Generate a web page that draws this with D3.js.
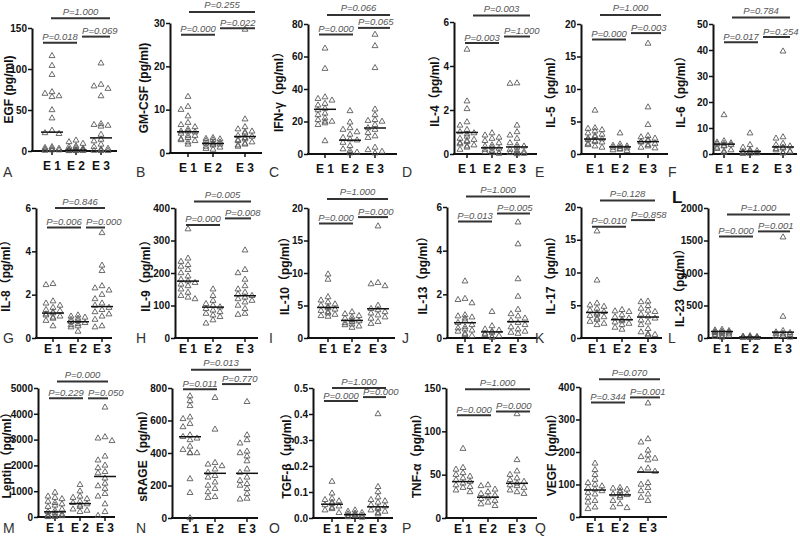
<!DOCTYPE html>
<html>
<head>
<meta charset="utf-8">
<script src="https://cdn.jsdelivr.net/npm/d3@7"></script>
<style>
    body { margin: 0; background: #fff; }
    svg { display: block; font-family: Arial, "Liberation Sans", "Noto Sans CJK SC", sans-serif; }
</style>
</head>
<body>
<svg width="800" height="536"></svg>
<script>
var groups = ["E 1", "E 2", "E 3"];
var panelLetters = ["A","B","C","D","E","F","G","H","I","J","K","L","M","N","O","P","Q"];
var yTitles = ["EGF  (pg/ml)", "GM-CSF (pg/ml)", "IFN-γ（pg/ml）", "IL-4（pg/ml）", "IL-5（pg/ml）", "IL-6（pg/ml）",
    "IL-8（pg/ml）", "IL-9（pg/ml）", "IL-10（pg/ml）", "IL-13（pg/ml）", "IL-17（pg/ml）", "IL-23（pg/ml）",
    "Leptin（pg/ml）", "sRAGE（pg/ml）", "TGF-β（μg/ml）", "TNF-α（pg/ml）", "VEGF（pg/ml）"];
var yTicks = [[0,50,100,150], [0,10,20,30], [0,20,40,60,80], [0,2,4,6], [0,5,10,15,20], [0,10,20,30,40,50],
    [0,2,4,6], [0,100,200,300,400], [0,5,10,15,20], [0,2,4,6], [0,5,10,15,20], [0,500,1000,1500,2000],
    [0,1000,2000,3000,4000,5000], [0,200,400,600,800], [0,0.1,0.2,0.3,0.4,0.5], [0,50,100,150], [0,100,200,300,400]];

var e1Values = [
    [116,104,93,72,70,67,66,50,40,25,22,21,5,4,3,3,2,1,1,0.5],
    [13,10.7,10,8.5,7,6.5,6,5.5,5,5,4.8,4.5,4,4,3.5,3.2,3,2.8,2.5,2],
    [65,52.5,35,34,33,31,30,28,27,25,24,22,21,20,20,19,18,8],
    [4.75,2.4,2.05,1.45,1.3,1.1,1.0,0.95,0.9,0.8,0.7,0.65,0.6,0.55,0.5,0.45,0.4,0.35,0.3,0.2],
    [6.7,4.0,3.9,3.7,3.5,3.2,3.0,2.8,2.6,2.4,2.3,2.2,2.0,1.9,1.8,1.6,1.4,1.2,1.0],
    [15,5,4.5,4.2,4,3.8,3.5,3.2,3,2.5,2,1.5,1,0.5],
    [2.5,2.45,1.7,1.6,1.5,1.4,1.3,1.25,1.2,1.15,1.1,1.05,1.0,0.95,0.9,0.8,0.55],
    [335,245,235,225,220,210,200,190,180,175,170,165,160,150,140,130,125,120],
    [9.8,9,6.3,5.8,5.5,5.2,5,4.8,4.6,4.4,4.2,4.0,3.8,3.6,3.4,3.3],
    [2.6,1.8,1.75,1.6,1.05,1.0,0.95,0.9,0.8,0.7,0.6,0.5,0.45,0.4,0.35,0.3,0.2,0.15,0.1],
    [16.3,8.8,5.3,5.0,4.8,4.5,4.2,4.0,3.8,3.6,3.4,3.2,3.0,2.8,2.5,2.2,2.0],
    [130,120,110,100,95,90,85,80,70,60,50,40,30,20,10],
    [950,800,750,700,600,550,500,450,400,300,250,200,150,100,80,60,40,20,10,5],
    [750,720,690,620,610,580,560,510,500,490,480,440,420,400,400,400,240,155,0],
    [0.14,0.095,0.075,0.07,0.065,0.06,0.055,0.05,0.045,0.04,0.035,0.03,0.02],
    [80,58,56,52,50,48,46,44,42,40,38,36,35,32,30],
    [165,145,130,115,105,100,95,90,85,80,75,70,60,50,45,30,25]
];
var e2Values = [
    [13,11,9,6,5,4,3,2,2,1.5,1,1,0.8,0.5,0.5,0.3,0.2,0.1],
    [3.5,3.3,3.2,3,2.8,2.5,2.3,2.2,2,2,1.8,1.5,1.3,1,0.8],
    [26.5,19.5,16,15,13.5,12,10,9,8.5,7,5,3,2,1,0.5],
    [0.95,0.85,0.75,0.7,0.6,0.5,0.4,0.35,0.3,0.25,0.2,0.15,0.1,0.05,0.05,0.02],
    [3.2,1.5,1.3,1.2,1.1,1.0,0.9,0.8,0.7,0.6,0.5],
    [8,3.5,2.5,1.5,1.2,1,0.8,0.5,0.3,0.2,0.1],
    [1.05,1.0,0.95,0.9,0.85,0.8,0.75,0.7,0.65,0.6,0.55,0.5,0.3],
    [150,130,115,105,100,95,90,85,80,75,70,65,55,45],
    [4.0,3.7,3.4,3.2,3.0,2.8,2.6,2.5,2.3,2.1,2.0,1.8,1.6],
    [1.2,0.55,0.4,0.35,0.3,0.25,0.2,0.15,0.1,0.05,0.02],
    [4.3,4.1,4.0,3.5,3.2,3.0,2.8,2.6,2.4,2.2,2.0,1.6,1.3],
    [30,25,20,15,12,10,8,5,3,2],
    [1250,1000,800,750,700,600,550,500,450,400,300,250,200],
    [740,545,340,330,320,300,280,260,250,220,200,180,160,130,125],
    [0.03,0.025,0.02,0.018,0.015,0.012,0.01,0.008,0.006,0.004,0.002],
    [38,37,33,30,28,26,24,22,20,18,16,14],
    [90,88,85,80,75,70,68,65,60,50,40,30,28]
];
var e3Values = [
    [107,81,79,76,67,33,32,31,30,20,14,12,8,5,3,2,1,0.5,0.3,0.2],
    [28.5,7.8,6,5.5,5,4.8,4.5,4,3.8,3.5,3.2,3,2.8,2.5,2.2,2,1.8,1.5],
    [73.5,66.5,53,27.5,24,21,20.5,20,18,16,15,13,11,10,4,2.5,1.5,0.5],
    [3.2,3.22,1.3,1.0,0.85,0.7,0.5,0.4,0.35,0.3,0.2,0.15,0.1,0.08,0.05,0.02,0],
    [17,7.2,4.5,2.8,2.6,2.4,2.2,2.0,1.9,1.8,1.6,1.4,1.2,1.0,0.9],
    [39.5,6.5,6,4,3.5,3,2.5,2.2,2,1.5,1,0.8,0.5,0.3],
    [4.85,3.35,3.1,2.4,2.3,2.2,2.0,1.8,1.6,1.5,1.4,1.3,1.2,1.1,1.0,0.85,0.55,0.5],
    [270,210,200,180,160,150,140,135,130,125,120,115,110,100,90,75,72],
    [17.2,8.5,8.3,8.0,5.0,4.5,4.3,4.0,3.8,3.5,3.2,3.0,2.5,2.2],
    [5.3,4.3,2.7,1.9,1.3,1.1,1.0,0.9,0.8,0.7,0.6,0.5,0.4,0.3,0.25,0.2],
    [5.6,5.5,4.9,4.5,4.2,4.0,3.6,3.3,3.0,2.7,2.4,2.0,1.4,0.9,0.6,0.5,0.4],
    [1550,330,110,90,80,70,60,50,40,30,20,10],
    [4250,3100,3050,2950,2350,2200,2000,1900,1750,1700,1500,1300,1200,1100,900,800,500,200,50],
    [715,510,480,460,410,400,380,350,300,280,250,230,210,200,180,150,120,115],
    [0.4,0.12,0.1,0.08,0.07,0.065,0.06,0.05,0.045,0.04,0.035,0.03,0.025,0.02,0.015],
    [120,67,54,50,46,44,42,40,38,37,35,32,30,28],
    [350,240,230,205,190,185,180,175,150,145,140,105,100,90,80,70,60,50]
];
var medians = [[23,1,16], [4.9,2.2,3.8], [27.5,8.5,16], [0.98,0.28,0.32], [2.3,1.1,1.9], [3.8,1.0,2.7],
    [1.15,0.75,1.45], [175,95,130], [4.7,2.7,4.5], [0.7,0.28,0.75], [3.9,2.8,3.2], [100,15,90],
    [200,520,1570], [500,275,275], [0.053,0.013,0.043], [42,24,40], [83,68,138]];
// E1 vs E2, E2 vs E3, E1 vs E3
var pLabels = [
    ["P=0.018","P=0.069","P=1.000"], ["P=0.000","P=0.022","P=0.255"], ["P=0.000","P=0.065","P=0.066"],
    ["P=0.003","P=1.000","P=0.003"], ["P=0.000","P=0.003","P=1.000"], ["P=0.017","P=0.254","P=0.784"],
    ["P=0.006","P=0.000","P=0.846"], ["P=0.000","P=0.008","P=0.005"], ["P=0.000","P=0.000","P=1.000"],
    ["P=0.013","P=0.005","P=1.000"], ["P=0.010","P=0.858","P=0.128"], ["P=0.000","P=0.001","P=1.000"],
    ["P=0.229","P=0.050","P=0.000"], ["P=0.011","P=0.770","P=0.013"], ["P=0.000","P=0.000","P=1.000"],
    ["P=0.000","P=0.000","P=1.000"], ["P=0.344","P=0.001","P=0.070"]
];

// LAYOUT: axis x, right end, top y, zero y, category x, title offset, bracket levels (share of axis max), title shift
var layout = [
    [32,117,28,151,[52,76,101],23,[0.88,0.93,1.08],0],
    [170,262,23,153,[188,213,245],26,[0.91,0.96,1.085],0],
    [308,397,24,154,[325,350,375],29,[0.92,0.97,1.07],0],
    [454,537,22,154,[467,492,517],19,[0.84,0.89,1.05],0],
    [581,668,24,154,[595,620,648],30,[0.88,0.93,1.07],0],
    [713,797,24,154,[724,750,783],32,[0.86,0.90,1.05],0],
    [36,112,208,338,[53,78,102],30,[0.85,0.85,1.0],0],
    [175,258,208,338,[188,213,245],29,[0.87,0.92,1.05],0],
    [308,395,208,338,[328,352,378],23,[0.88,0.93,1.07],0],
    [447,537,207,338,[465,492,518],24,[0.89,0.95,1.08],0],
    [581,662,207,338,[597,622,648],30,[0.85,0.90,1.05],0],
    [708,797,208,338,[722,750,783],28,[0.78,0.82,0.95],12],
    [38,115,388,517,[55,80,105],31,[0.92,0.92,1.05],0],
    [172,258,388,518,[190,215,247],29,[0.99,1.03,1.14],0],
    [313,393,388,518,[332,355,378],26,[0.90,0.93,1.0],0],
    [446,537,388,518,[463,488,517],29,[0.79,0.82,0.99],0],
    [580,667,387,517,[595,620,648],28,[0.88,0.92,1.06],0]
];
var rowLetterY = [177, 343, 533];
var rowLabelDy = [19, 15, 15];

var svg = d3.select("svg");
var tri = d3.symbol().type(d3.symbolTriangle).size(15);

layout.forEach(function(L, i) {
    var row = Math.floor(i / 6), col = i % 6;
    var ticks = yTicks[i];
    var yMax = ticks[ticks.length - 1];
    var axisX = L[0], rightX = L[1];

    var y = d3.scaleLinear().domain([0, yMax]).range([L[3], L[2]]);
    var x = d3.scaleOrdinal().domain(groups).range(L[4]);
    var g = svg.append("g");

    // Y AXIS
    var fmt = yMax < 1 ? d3.format(".1f") : d3.format("d");
    var yAxis = g.append("g")
        .attr("transform", "translate(" + axisX + ",0)")
        .call(d3.axisLeft(y).tickValues(ticks).tickSize(4).tickSizeOuter(0).tickPadding(1).tickFormat(fmt));
    yAxis.select(".domain").attr("stroke", "#111").attr("stroke-width", 2);
    yAxis.selectAll(".tick line").attr("stroke", "#111").attr("stroke-width", 1.5);
    yAxis.selectAll(".tick text")
        .attr("fill", "#111")
        .style("font-size", "10px")
        .style("font-weight", "bold")
        .style("font-family", "Arial, 'Liberation Sans', sans-serif");

    // X AXIS
    g.append("line")
        .attr("x1", axisX - 1).attr("x2", rightX)
        .attr("y1", y(0)).attr("y2", y(0))
        .attr("stroke", "#111").attr("stroke-width", 2);
    g.selectAll(".xt")
        .data(groups)
        .enter()
        .append("line")
        .attr("x1", function(d) { return x(d); })
        .attr("x2", function(d) { return x(d); })
        .attr("y1", y(0)).attr("y2", y(0) + 4)
        .attr("stroke", "#111").attr("stroke-width", 1.5);
    g.selectAll(".xl")
        .data(groups)
        .enter()
        .append("text")
        .attr("x", function(d) { return x(d); })
        .attr("y", y(0) + rowLabelDy[row])
        .attr("text-anchor", "middle")
        .style("font-size", "12px")
        .style("font-weight", "bold")
        .attr("fill", "#111")
        .text(function(d) { return d; });

    // Y TITLE
    var midY = (L[2] + L[3]) / 2 + L[7];
    g.append("text")
        .attr("transform", "translate(" + (axisX - L[5] + 4) + "," + midY + ") rotate(-90)")
        .attr("text-anchor", "middle")
        .style("font-size", "12px")
        .style("font-weight", "bold")
        .attr("fill", "#111")
        .text(yTitles[i]);

    // PANEL LETTER
    g.append("text")
        .attr("x", col * 133 + 3)
        .attr("y", rowLetterY[row])
        .style("font-size", "14px")
        .attr("fill", "#333")
        .text(panelLetters[i]);

    // POINTS
    var sets = [e1Values[i], e2Values[i], e3Values[i]];
    sets.forEach(function(vals, k) {
        var pts = swarm(vals, y, x(groups[k]));
        g.selectAll(".p" + k)
            .data(pts)
            .enter()
            .append("path")
            .attr("d", tri)
            .attr("transform", function(d) { return "translate(" + d.x + "," + d.y + ")"; })
            .attr("fill", "none")
            .attr("stroke", "#5a5a5a")
            .attr("stroke-width", 0.9);
    });

    // MEDIANS
    g.selectAll(".med")
        .data(medians[i])
        .enter()
        .append("line")
        .attr("x1", function(d, k) { return x(groups[k]) - 11; })
        .attr("x2", function(d, k) { return x(groups[k]) + 11; })
        .attr("y1", function(d) { return y(d); })
        .attr("y2", function(d) { return y(d); })
        .attr("stroke", "#111").attr("stroke-width", 1.5);

    // P VALUE BRACKETS
    var lv = L[6];
    var spans = [[axisX + 11, axisX + 45], [axisX + 50, rightX - 7], [axisX + 19, rightX - 7]];
    spans.forEach(function(s, k) {
        var yy = y(lv[k] * yMax);
        g.append("line")
            .attr("x1", s[0]).attr("x2", s[1])
            .attr("y1", yy).attr("y2", yy)
            .attr("stroke", "#333").attr("stroke-width", 2);
        g.append("text")
            .attr("x", k == 1 ? s[0] : (s[0] + s[1]) / 2)
            .attr("y", yy - (k == 2 ? 3.5 : 2.5))
            .attr("text-anchor", k == 1 ? "start" : "middle")
            .style("font-size", "9.5px")
            .style("font-style", "italic")
            .attr("fill", "#555")
            .text(pLabels[i][k]);
    });
});

// big bold L over panel L
svg.append("text")
    .attr("x", 672).attr("y", 203)
    .style("font-size", "17px")
    .style("font-weight", "bold")
    .attr("fill", "#111")
    .text("L");

////////////////////////////////////////////////////////////////////////////////

function swarm(vals, y, cx) {
    var placed = [];
    var offs = [0];
    for (var k = 1; k <= 3; k++) { offs.push(-k * 3.5, k * 3.5); }
    var order = vals.map(function(v, i) { return i; })
        .sort(function(a, b) { return vals[b] - vals[a]; });
    order.forEach(function(i) {
        var py = y(vals[i]);
        var best = offs[0], bestHits = Infinity;
        offs.forEach(function(o) {
            var px = cx + o;
            var hits = placed.filter(function(p) {
                return Math.abs(p.x - px) < 6 && Math.abs(p.y - py) < 4.5;
            }).length;
            if (hits < bestHits) { bestHits = hits; best = o; }
        });
        placed.push({x: cx + best, y: py});
    });
    return placed;
}
</script>
</body>
</html>
